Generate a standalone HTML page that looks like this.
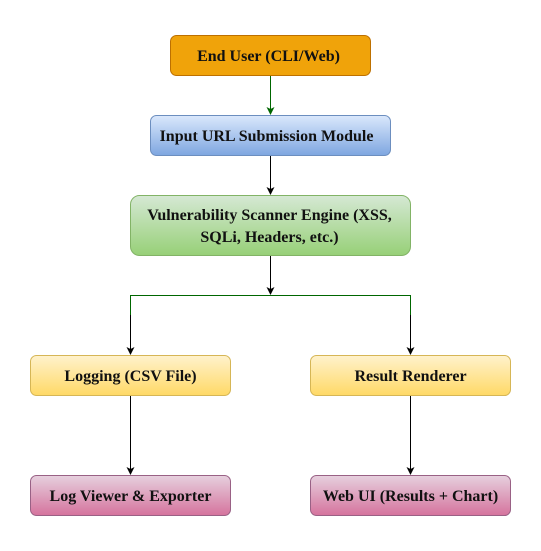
<!DOCTYPE html>
<html><head><meta charset="utf-8"><style>
html,body{margin:0;padding:0;background:#fff;}
svg{display:block;}
text{font-family:"Liberation Serif",serif;font-weight:bold;font-size:16px;fill:#111;text-anchor:middle;}
</style></head><body>
<svg width="541" height="551" viewBox="0 0 541 551" xmlns="http://www.w3.org/2000/svg">
<defs>
<linearGradient id="gb" x1="0" y1="0" x2="0" y2="1"><stop offset="0" stop-color="#dae8fc"/><stop offset="1" stop-color="#7ea6e0"/></linearGradient>
<linearGradient id="gg" x1="0" y1="0" x2="0" y2="1"><stop offset="0" stop-color="#d5e8d4"/><stop offset="1" stop-color="#97d077"/></linearGradient>
<linearGradient id="gy" x1="0" y1="0" x2="0" y2="1"><stop offset="0" stop-color="#fff2cc"/><stop offset="1" stop-color="#ffd966"/></linearGradient>
<linearGradient id="gp" x1="0" y1="0" x2="0" y2="1"><stop offset="0" stop-color="#e6d0de"/><stop offset="1" stop-color="#d5739d"/></linearGradient>
</defs>
<g stroke-width="1" fill="none">
<line x1="270.5" y1="75.5" x2="270.5" y2="109" stroke="#006600"/>
<line x1="270.5" y1="155.5" x2="270.5" y2="189" stroke="#000"/>
<line x1="270.5" y1="255.5" x2="270.5" y2="289" stroke="#000"/>
<polyline points="130.5,315 130.5,295.5 410.5,295.5 410.5,315" stroke="#006600"/>
<line x1="130.5" y1="315" x2="130.5" y2="349" stroke="#000"/>
<line x1="410.5" y1="315" x2="410.5" y2="349" stroke="#000"/>
<line x1="130.5" y1="395.5" x2="130.5" y2="469" stroke="#000"/>
<line x1="410.5" y1="395.5" x2="410.5" y2="469" stroke="#000"/>
</g>
<g>
<polygon points="270.5,115 266.5,107 270.5,109 274.5,107" fill="#006600"/>
<polygon points="270.5,195 266.5,187 270.5,189 274.5,187" fill="#000"/>
<polygon points="270.5,295 266.5,287 270.5,289 274.5,287" fill="#000"/>
<polygon points="130.5,355 126.5,347 130.5,349 134.5,347" fill="#000"/>
<polygon points="410.5,355 406.5,347 410.5,349 414.5,347" fill="#000"/>
<polygon points="130.5,475 126.5,467 130.5,469 134.5,467" fill="#000"/>
<polygon points="410.5,475 406.5,467 410.5,469 414.5,467" fill="#000"/>
</g>
<rect x="170.5" y="35.5" width="200" height="40" rx="6" fill="#f0a30a" stroke="#bd7000"/>
<text x="268.5" y="61">End User (CLI/Web)</text>
<rect x="150.5" y="115.5" width="240" height="40" rx="6" fill="url(#gb)" stroke="#6c8ebf"/>
<text x="266.5" y="141">Input URL Submission Module</text>
<rect x="130.5" y="195.5" width="280" height="60" rx="9" fill="url(#gg)" stroke="#82b366"/>
<text x="269.5" y="220">Vulnerability Scanner Engine (XSS,</text>
<text x="269.5" y="242">SQLi, Headers, etc.)</text>
<rect x="30.5" y="355.5" width="200" height="40" rx="6" fill="url(#gy)" stroke="#d6b656"/>
<text x="130.5" y="381">Logging (CSV File)</text>
<rect x="310.5" y="355.5" width="200" height="40" rx="6" fill="url(#gy)" stroke="#d6b656"/>
<text x="410.5" y="381">Result Renderer</text>
<rect x="30.5" y="475.5" width="200" height="40" rx="6" fill="url(#gp)" stroke="#996185"/>
<text x="130.5" y="501">Log Viewer &amp; Exporter</text>
<rect x="310.5" y="475.5" width="200" height="40" rx="6" fill="url(#gp)" stroke="#996185"/>
<text x="410.5" y="501">Web UI (Results + Chart)</text>
</svg>
</body></html>
